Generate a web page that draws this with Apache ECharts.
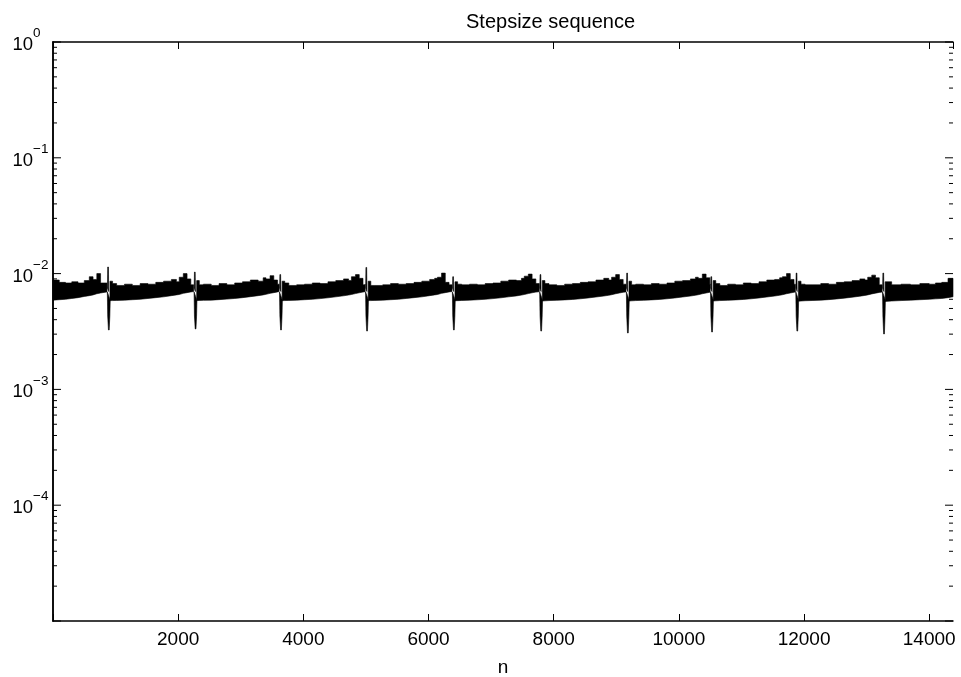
<!DOCTYPE html>
<html><head><meta charset="utf-8">
<script src="https://cdn.jsdelivr.net/npm/echarts@6/dist/echarts.min.js"></script>
<style>html,body{margin:0;padding:0;background:#fff}#c{width:961px;height:677px}</style>
</head><body><div id="c"></div>
<script>
// ---- axis data ----
const xMin = 0, xMax = 14380;
const xTickStep = 2000;
const yMin = 1e-5, yMax = 1;
const yDecades = [1e-5, 1e-4, 1e-3, 1e-2, 1e-1, 1];
const titleText = 'Stepsize sequence';
const xName = 'n';

// ---- dips / spikes (n position, minimum, spike maximum) ----
const dipN      = [892, 2278, 3643, 5018, 6405, 7800, 9185, 10530, 11892, 13278];
const dipLow    = [3.26e-3, 3.33e-3, 3.26e-3, 3.19e-3, 3.26e-3, 3.19e-3, 3.07e-3, 3.13e-3, 3.19e-3, 3.01e-3];
const spikeHigh = [11.4e-3, 10.3e-3, 9.8e-3, 11.3e-3, 9.4e-3, 9.8e-3, 10.1e-3, 9.4e-3, 10.1e-3, 10.1e-3];

// ---- band before the first dip (values in units of 1e-3) ----
const headN  = [0, 100, 200, 300, 400, 500, 580, 640, 700, 760, 862];
const headHi = [8.8, 8.4, 8.3, 8.5, 8.3, 8.7, 9.4, 8.9, 10.0, 8.3, 8.0];
const headLo = [5.9, 5.95, 6.0, 6.1, 6.2, 6.35, 6.45, 6.55, 6.7, 6.8, 6.95];

// ---- band between dips: n offsets after each dip (last point = next dip - 30) ----
const cycleOffset = [18, 60, 125, 250, 375, 500, 625, 750, 875, 1000, 1080, 1125, 1190, 1250, 1310];
const cycleHi = [
  [8.6, 8.2, 7.9, 8.1, 7.9, 8.2, 8.1, 8.4, 8.6, 8.9, 8.5, 9.3, 10.0, 9.0, 8.0, 8.0],
  [8.7, 8.0, 8.1, 7.9, 8.2, 8.0, 8.3, 8.5, 8.8, 8.6, 9.2, 9.0, 9.6, 8.8, 8.1, 8.0],
  [8.6, 8.3, 7.9, 8.0, 8.1, 8.3, 8.2, 8.5, 8.7, 9.0, 8.7, 9.4, 9.8, 9.1, 8.0, 8.1],
  [8.6, 7.9, 7.9, 8.0, 8.2, 8.1, 8.2, 8.4, 8.6, 8.9, 9.1, 9.3, 10.1, 8.4, 8.0, 8.0],
  [8.5, 8.1, 8.0, 8.1, 8.0, 8.2, 8.3, 8.6, 8.8, 8.7, 9.1, 9.5, 9.9, 9.0, 8.2, 8.0],
  [8.7, 8.2, 8.0, 7.9, 8.1, 8.2, 8.4, 8.5, 8.8, 9.1, 8.8, 9.3, 9.8, 8.9, 8.1, 8.0],
  [8.6, 8.0, 8.1, 8.0, 8.2, 8.1, 8.3, 8.6, 8.7, 9.0, 9.3, 9.1, 9.9, 9.2, 8.0, 8.1],
  [8.7, 8.2, 7.9, 8.1, 8.0, 8.3, 8.2, 8.5, 8.8, 8.9, 9.2, 9.4, 10.0, 8.9, 8.1, 8.0],
  [8.6, 8.1, 8.0, 8.0, 8.2, 8.1, 8.4, 8.5, 8.7, 9.0, 8.8, 9.3, 9.7, 9.2, 8.0, 8.0]
];
const cycleLo = [
  [5.85, 5.85, 5.87, 5.9, 5.95, 6.0, 6.1, 6.2, 6.3, 6.45, 6.55, 6.6, 6.75, 6.85, 6.95, 7.0],
  [5.85, 5.86, 5.88, 5.9, 5.96, 6.02, 6.1, 6.2, 6.32, 6.45, 6.55, 6.62, 6.75, 6.85, 6.95, 7.0],
  [5.84, 5.85, 5.87, 5.9, 5.95, 6.0, 6.08, 6.18, 6.3, 6.43, 6.53, 6.6, 6.72, 6.83, 6.93, 6.98],
  [5.85, 5.85, 5.87, 5.9, 5.95, 6.0, 6.1, 6.2, 6.3, 6.45, 6.55, 6.6, 6.75, 6.85, 6.95, 7.0],
  [5.83, 5.84, 5.86, 5.9, 5.94, 6.0, 6.08, 6.18, 6.3, 6.42, 6.52, 6.6, 6.72, 6.83, 6.92, 6.98],
  [5.8, 5.82, 5.85, 5.88, 5.93, 5.98, 6.06, 6.16, 6.28, 6.4, 6.5, 6.57, 6.7, 6.8, 6.9, 6.95],
  [5.8, 5.82, 5.85, 5.88, 5.93, 5.98, 6.06, 6.16, 6.28, 6.4, 6.5, 6.57, 6.7, 6.8, 6.9, 6.95],
  [5.8, 5.82, 5.85, 5.88, 5.93, 5.98, 6.06, 6.16, 6.28, 6.4, 6.5, 6.57, 6.7, 6.8, 6.9, 6.95],
  [5.78, 5.8, 5.83, 5.86, 5.9, 5.96, 6.04, 6.14, 6.25, 6.38, 6.48, 6.55, 6.68, 6.78, 6.88, 6.93]
];

// ---- band after the last dip ----
const tailN  = [13296, 13400, 13550, 13700, 13850, 14000, 14100, 14200, 14300, 14380];
const tailHi = [8.5, 8.0, 8.1, 8.0, 8.2, 8.1, 8.3, 8.4, 9.1, 9.1];
const tailLo = [5.75, 5.8, 5.85, 5.9, 5.95, 6.0, 6.05, 6.1, 6.2, 6.3];

// ---- assemble band segments ----
const segments = [];
segments.push({n: headN, hi: headHi, lo: headLo});
for (let k = 0; k < cycleHi.length; k++) {
  const n = cycleOffset.map(o => dipN[k] + o).concat([dipN[k + 1] - 30]);
  segments.push({n: n, hi: cycleHi[k], lo: cycleLo[k]});
}
segments.push({n: tailN, hi: tailHi, lo: tailLo});

const FONT = "'Liberation Sans', Arial, Helvetica, sans-serif";
const chart = echarts.init(document.getElementById('c'), null, {renderer: 'canvas'});

function bandRender(params, api) {
  const children = [];
  const black = {fill: '#000', stroke: '#000', lineWidth: 0.6};
  segments.forEach(seg => {
    const pts = [];
    for (let i = 0; i < seg.n.length; i++) {
      pts.push(api.coord([seg.n[i], seg.hi[i] * 1e-3]));
      if (i < seg.n.length - 1) pts.push(api.coord([seg.n[i + 1], seg.hi[i] * 1e-3]));
    }
    for (let i = seg.n.length - 1; i >= 0; i--) pts.push(api.coord([seg.n[i], seg.lo[i] * 1e-3]));
    children.push({type: 'polygon', shape: {points: pts}, style: black});
  });
  dipN.forEach((d, k) => {
    // spike just before the dip
    children.push({type: 'polygon', shape: {points: [
      api.coord([d - 22, 7.5e-3]), api.coord([d - 18, spikeHigh[k]]),
      api.coord([d - 6, spikeHigh[k]]), api.coord([d - 2, 7.0e-3])
    ]}, style: black});
    // dip
    children.push({type: 'polygon', shape: {points: [
      api.coord([d - 24, 6.95e-3]), api.coord([d + 22, 5.9e-3]),
      api.coord([d + 16, 4.3e-3]), api.coord([d + 6, dipLow[k]]),
      api.coord([d - 6, dipLow[k]]), api.coord([d - 18, 4.3e-3])
    ]}, style: black});
  });
  return {type: 'group', children: children};
}

function yTickRender(params, api) {
  const children = [];
  const st = {stroke: '#000', lineWidth: 1};
  yDecades.forEach((dv, i) => {
    const pl = api.coord([xMin, dv]);
    const pr = api.coord([xMax, dv]);
    children.push({type: 'line', shape: {x1: pl[0], y1: pl[1], x2: pl[0] + 8, y2: pl[1]}, style: st});
    children.push({type: 'line', shape: {x1: pr[0], y1: pr[1], x2: pr[0] - 8, y2: pr[1]}, style: st});
    if (i === yDecades.length - 1) return;
    for (let m = 2; m <= 9; m++) {
      const v = m * dv;
      const ql = api.coord([xMin, v]);
      const qr = api.coord([xMax, v]);
      children.push({type: 'line', shape: {x1: ql[0], y1: ql[1], x2: ql[0] + 4, y2: ql[1]}, style: st});
      children.push({type: 'line', shape: {x1: qr[0], y1: qr[1], x2: qr[0] - 4, y2: qr[1]}, style: st});
    }
  });
  return {type: 'group', children: children};
}

const axisLineStyle = {color: '#000', width: 1.5};
const option = {
  animation: false,
  backgroundColor: '#fff',
  title: {
    text: titleText, left: 466, top: 12, padding: 0,
    textStyle: {fontFamily: FONT, fontSize: 20, fontWeight: 'normal', color: '#000'}
  },
  grid: {left: 53, right: 8, top: 42, bottom: 56, containLabel: false, outerBoundsMode: 'none'},
  xAxis: [{
    type: 'value', min: xMin, max: xMax, interval: xTickStep, position: 'bottom',
    name: xName, nameLocation: 'middle', nameGap: 37,
    nameTextStyle: {fontFamily: FONT, fontSize: 19, color: '#000'},
    axisLine: {show: true, lineStyle: axisLineStyle},
    axisTick: {show: true, inside: true, length: 7, lineStyle: {color: '#000', width: 1}},
    axisLabel: {
      show: true, margin: 9, color: '#000', fontFamily: FONT, fontSize: 19,
      formatter: v => (v > 0 && v % xTickStep === 0) ? String(v) : '',
      showMaxLabel: false
    },
    splitLine: {show: false}
  }, {
    type: 'value', min: xMin, max: xMax, interval: xTickStep, position: 'top',
    axisLine: {show: true, lineStyle: axisLineStyle},
    axisTick: {show: true, inside: true, length: 7, lineStyle: {color: '#000', width: 1}},
    axisLabel: {show: false}, splitLine: {show: false}
  }],
  yAxis: [{
    type: 'log', logBase: 10, min: yMin, max: yMax, position: 'left',
    axisLine: {show: true, lineStyle: axisLineStyle},
    axisTick: {show: false},
    axisLabel: {
      show: true, margin: 40.5, align: 'left', verticalAlign: 'middle', color: '#000',
      formatter: function (v) {
        const e = Math.round(Math.log10(v));
        if (e <= -5) return '';
        return '{sp| }{s|' + (e < 0 ? '\u2212' + (-e) : String(e)) + '}\n{b|10}';
      },
      rich: {
        sp: {fontFamily: FONT, fontSize: 13.5, width: 20.6, lineHeight: 6},
        s: {fontFamily: FONT, fontSize: 13.5, color: '#000', lineHeight: 6},
        b: {fontFamily: FONT, fontSize: 18.5, color: '#000', lineHeight: 17}
      }
    },
    splitLine: {show: false}, minorTick: {show: false}
  }, {
    type: 'log', logBase: 10, min: yMin, max: yMax, position: 'right',
    axisLine: {show: true, lineStyle: axisLineStyle},
    axisTick: {show: false},
    axisLabel: {show: false}, splitLine: {show: false}
  }],
  series: [{
    type: 'custom', name: 'stepsize', xAxisIndex: 0, yAxisIndex: 0,
    renderItem: bandRender, data: [[0, 0.005]], silent: true, z: 2
  }, {
    type: 'custom', name: 'yTicks', xAxisIndex: 0, yAxisIndex: 0,
    renderItem: yTickRender, data: [[0, 0.5]], silent: true, z: 3
  }]
};
chart.setOption(option);
</script>
</body></html>
